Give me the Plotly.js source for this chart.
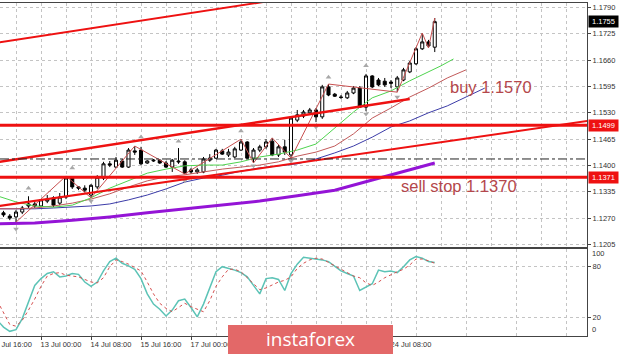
<!DOCTYPE html>
<html>
<head>
<meta charset="utf-8">
<script src="https://cdn.plot.ly/plotly-3.0.1.min.js"></script>
<style>html,body{margin:0;padding:0;background:#fff;overflow:hidden}#chart{width:620px;height:354px}</style>
</head>
<body>
<div id="chart"></div>
<script>
// ---- H4 candles (bar index starts at firstBar) ----
const firstBar = 2;
const open = [1.1283,1.1275,1.1273,1.1285,1.1300,1.1305,1.1300,1.1312,1.1320,1.1307,
 1.1322,1.1369,1.1347,1.1344,1.1327,1.1347,1.1369,1.1404,1.1396,1.1411,
 1.1396,1.1436,1.1438,1.1406,1.1411,1.1413,1.1406,1.1396,1.1411,1.1409,
 1.1389,1.1384,1.1384,1.1413,1.1418,1.1436,1.1426,1.1421,1.1438,1.1458,
 1.1418,1.1438,1.1446,1.1460,1.1426,1.1446,1.1426,1.1512,1.1522,1.1530,
 1.1537,1.1520,1.1594,1.1576,1.1569,1.1567,1.1579,1.1591,1.1544,1.1621,
 1.1611,1.1608,1.1606,1.1594,1.1611,1.1631,1.1651,1.1688,1.1705,1.1692];
const high = [1.1288,1.1280,1.1290,1.1300,1.1324,1.1310,1.1317,1.1327,1.1324,1.1332,
 1.1374,1.1371,1.1349,1.1351,1.1354,1.1376,1.1409,1.1411,1.1421,1.1416,
 1.1443,1.1448,1.1446,1.1413,1.1416,1.1416,1.1411,1.1416,1.1443,1.1413,
 1.1394,1.1394,1.1421,1.1428,1.1441,1.1441,1.1441,1.1446,1.1465,1.1460,
 1.1443,1.1451,1.1465,1.1468,1.1451,1.1463,1.1522,1.1537,1.1537,1.1542,
 1.1542,1.1599,1.1601,1.1579,1.1574,1.1584,1.1596,1.1596,1.1626,1.1623,
 1.1616,1.1616,1.1611,1.1621,1.1641,1.1658,1.1692,1.1727,1.1710,1.1764];
const low = [1.1273,1.1265,1.1260,1.1280,1.1295,1.1295,1.1297,1.1307,1.1297,1.1302,
 1.1317,1.1342,1.1339,1.1334,1.1320,1.1342,1.1364,1.1396,1.1394,1.1394,
 1.1394,1.1426,1.1401,1.1404,1.1409,1.1404,1.1394,1.1384,1.1404,1.1379,
 1.1379,1.1379,1.1381,1.1409,1.1416,1.1426,1.1421,1.1418,1.1436,1.1416,
 1.1406,1.1433,1.1441,1.1423,1.1421,1.1426,1.1418,1.1507,1.1517,1.1525,
 1.1507,1.1515,1.1571,1.1569,1.1564,1.1564,1.1576,1.1542,1.1534,1.1591,
 1.1596,1.1594,1.1591,1.1581,1.1608,1.1628,1.1648,1.1685,1.1690,1.1680];
const close = [1.1278,1.1270,1.1285,1.1295,1.1305,1.1300,1.1315,1.1317,1.1302,1.1322,
 1.1369,1.1347,1.1344,1.1339,1.1351,1.1371,1.1404,1.1401,1.1413,1.1396,
 1.1438,1.1433,1.1404,1.1411,1.1413,1.1406,1.1396,1.1413,1.1409,1.1381,
 1.1384,1.1389,1.1416,1.1418,1.1438,1.1428,1.1433,1.1441,1.1458,1.1418,
 1.1438,1.1446,1.1458,1.1426,1.1446,1.1433,1.1517,1.1525,1.1532,1.1537,
 1.1520,1.1594,1.1574,1.1571,1.1568,1.1579,1.1591,1.1544,1.1621,1.1594,
 1.1599,1.1599,1.1603,1.1616,1.1636,1.1653,1.1688,1.1705,1.1695,1.1755];

// ---- Alligator lines & long MA (read at sample bars) ----
const lipsIdx = [1,4,7,10,13,16,19,22,25,28,31,34,37,40,43,46,49,52,55,58,61,64,67,70,72,74];
const lipsVal = [1.1325,1.1310,1.1300,1.1297,1.1302,1.1320,1.1344,1.1362,1.1381,1.1391,1.1399,1.1401,1.1401,1.1409,1.1421,1.1428,1.1438,1.1453,1.1493,1.1532,1.1567,1.1584,1.1609,1.1631,1.1646,1.1663];
const teethIdx = [1,4,7,10,13,16,19,22,25,28,31,34,37,40,43,46,49,52,55,58,61,64,67,70,73,76];
const teethVal = [1.1293,1.1293,1.1295,1.1300,1.1307,1.1317,1.1330,1.1347,1.1362,1.1372,1.1377,1.1384,1.1391,1.1396,1.1401,1.1409,1.1423,1.1433,1.1448,1.1478,1.1517,1.1542,1.1569,1.1591,1.1616,1.1636];
const jawIdx = [1,4,7,10,13,16,19,22,25,28,31,34,37,40,43,46,49,52,55,58,61,64,67,70,73,76,79];
const jawVal = [1.1293,1.1293,1.1293,1.1295,1.1297,1.1300,1.1305,1.1315,1.1327,1.1342,1.1359,1.1369,1.1376,1.1386,1.1394,1.1399,1.1404,1.1416,1.1431,1.1448,1.1470,1.1495,1.1510,1.1530,1.1547,1.1569,1.1591];
const maIdx = [1,7,13,19,25,31,37,43,49,55,61,67,71];
const maVal = [1.1256,1.1258,1.1265,1.1273,1.1283,1.1293,1.1302,1.1312,1.1325,1.1339,1.1364,1.1389,1.1406];

// ---- ZigZag & fractals ----
const zzIdx = [4,12,16,23,31,40,42,45,48,54,65,69,70,71];
const zzVal = [1.1260,1.1374,1.1320,1.1448,1.1379,1.1465,1.1406,1.1468,1.1418,1.1601,1.1581,1.1727,1.1690,1.1764];
const fracUpIdx = [6,13,24,30,40,54,60];
const fracUpVal = [1.1344,1.1394,1.1470,1.1460,1.1485,1.1618,1.1646];
const fracDnIdx = [4,16,31,42,48,52,60,65];
const fracDnVal = [1.1243,1.1312,1.1362,1.1399,1.1411,1.1495,1.1527,1.1569];

// ---- drawn objects ----
const chanTopIdx = [0,45], chanTopVal = [1.1701,1.1807];
const chanMidIdx = [0,67], chanMidVal = [1.1406,1.1564];
const chanLowIdx = [0,96], chanLowVal = [1.1297,1.1511];
const levelVals = [1.1499,1.1371];
const levelLabels = ['1.1499','1.1371'];
const dashLevel = 1.1416;
const lastPrice = 1.1755, lastLabel = '1.1755';
const noteBuy = 'buy 1.1570', noteSell = 'sell stop 1.1370';

// ---- Stochastic ----
const stochFirst = 1;
const stochK = [17,9,4,6,19,38,58,66,72,74,
 68,69,72,71,62,57,62,75,86,90,
 84,81,77,66,48,36,30,22,29,40,
 42,32,21,36,56,74,80,78,76,73,
 68,58,48,66,67,65,52,72,83,91,
 90,89,88,86,80,75,72,69,52,56,
 60,76,74,75,73,80,88,92,90,86,85];
const stochD = [40,26,12,10,17,29,42,57,69,72,
 73,70,69,68,65,62,61,67,80,88,
 86,83,79,75,62,48,37,31,27,32,
 37,33,30,27,40,57,68,77,77,74,
 67,60,53,55,59,62,64,68,78,84,
 88,90,89,85,82,78,73,69,67,61,
 58,62,67,71,74,77,82,89,89,87,84];

// ---- axis ticks ----
const priceTicks = [1.1205,1.1270,1.1335,1.1400,1.1465,1.1530,1.1595,1.1660,1.1725,1.1790];
const timeTickIdx = [8,16,24,32,40,48,56,64];
const timeTickText = ['13 Jul 00:00','14 Jul 08:00','15 Jul 16:00','17 Jul 00:00','20 Jul 08:00','21 Jul 16:00','23 Jul 00:00','24 Jul 08:00'];
const firstTimeLabel = '10 Jul 16:00';

const bars = open.map((_, k) => firstBar + k);
const stochX = stochK.map((_, k) => stochFirst + k);

const xRange = [1.44, 95.36];
const gridEvery = [];
for (let g = 0; g <= 96; g += 4) gridEvery.push(g);
const minorGrid = gridEvery.filter(g => g % 8 !== 0);

const RED = '#ee1111';
const traces = [
 {type:'scatter', mode:'lines', x:maIdx, y:maVal, line:{color:'#9414d6', width:3}, hoverinfo:'skip'},
 {type:'scatter', mode:'lines', x:jawIdx, y:jawVal, line:{color:'#3c3ca8', width:1}, hoverinfo:'skip'},
 {type:'scatter', mode:'lines', x:teethIdx, y:teethVal, line:{color:'#c25a5a', width:1}, hoverinfo:'skip'},
 {type:'scatter', mode:'lines', x:lipsIdx, y:lipsVal, line:{color:'#4fd44f', width:1}, hoverinfo:'skip'},
 {type:'scatter', mode:'lines', x:zzIdx, y:zzVal, line:{color:'#c85050', width:1}, hoverinfo:'skip'},
 {type:'candlestick', x:bars, open:open, high:high, low:low, close:close,
  increasing:{line:{color:'#000', width:1}, fillcolor:'#fff'},
  decreasing:{line:{color:'#000', width:1}, fillcolor:'#000'},
  whiskerwidth:0, hoverinfo:'skip'},
 {type:'scatter', mode:'markers', x:fracUpIdx, y:fracUpVal, marker:{symbol:'triangle-up', size:5, color:'#a8a8a8'}, hoverinfo:'skip'},
 {type:'scatter', mode:'markers', x:fracDnIdx, y:fracDnVal, marker:{symbol:'triangle-down', size:5, color:'#a8a8a8'}, hoverinfo:'skip'},
 {type:'scatter', mode:'lines', x:chanTopIdx, y:chanTopVal, line:{color:RED, width:2}, hoverinfo:'skip'},
 {type:'scatter', mode:'lines', x:chanMidIdx, y:chanMidVal, line:{color:RED, width:2.5}, hoverinfo:'skip'},
 {type:'scatter', mode:'lines', x:chanLowIdx, y:chanLowVal, line:{color:RED, width:2}, hoverinfo:'skip'},
 {type:'scatter', mode:'lines', x:stochX, y:stochK, xaxis:'x2', yaxis:'y2', line:{color:'#5cc3b6', width:1.5}, hoverinfo:'skip'},
 {type:'scatter', mode:'lines', x:stochX, y:stochD, xaxis:'x2', yaxis:'y2', line:{color:'#d65050', width:1, dash:'dot'}, hoverinfo:'skip'}
];

const GRID = '#c4c4c4', AX = '#444', TXT = '#333';
const plotW = 587, plotB = 336, plotH = 333;
const shapes = [];
levelVals.forEach(v => shapes.push({type:'line', xref:'paper', x0:0, x1:1, yref:'y', y0:v, y1:v, line:{color:RED, width:3}}));
shapes.push({type:'line', xref:'paper', x0:0, x1:1, yref:'y', y0:dashLevel, y1:dashLevel, line:{color:'#222', width:1, dash:'dashdot'}});
shapes.push({type:'rect', layer:'above', xref:'paper', yref:'paper', x0:228/plotW, x1:393/plotW, y0:(plotB-356)/plotH, y1:(plotB-325)/plotH, fillcolor:'#e36868', line:{width:0}});

const annotations = [
 {xref:'x', yref:'y', x:80.0, y:1.15937, xanchor:'center', yanchor:'middle', text:noteBuy, showarrow:false, font:{family:'Liberation Sans, Arial, sans-serif', size:16.5, color:'#b4474b'}},
 {xref:'x', yref:'y', x:74.9, y:1.13493, xanchor:'center', yanchor:'middle', text:noteSell, showarrow:false, font:{family:'Liberation Sans, Arial, sans-serif', size:16.5, color:'#b4474b'}},
 {xref:'paper', yref:'y', x:1, xanchor:'left', yanchor:'middle', xshift:1, y:lastPrice, text:lastLabel, showarrow:false, bgcolor:'#000', borderpad:1, width:27, font:{size:7.5, color:'#fff'}},
 {xref:'paper', yref:'y2', x:1, xanchor:'left', yanchor:'middle', xshift:3, y:100, yshift:-4, text:'100', showarrow:false, font:{size:7.5, color:TXT}},
 {xref:'paper', yref:'y2', x:1, xanchor:'left', yanchor:'middle', xshift:3, y:0, yshift:5, text:'0', showarrow:false, font:{size:7.5, color:TXT}},
 {xref:'paper', yref:'paper', x:11/plotW, y:0, xanchor:'center', yanchor:'top', yshift:-2, text:firstTimeLabel, showarrow:false, font:{size:7.5, color:TXT}},
 {xref:'paper', yref:'paper', x:310/plotW, y:(plotB-339)/plotH, xanchor:'center', yanchor:'middle', text:'instaforex', showarrow:false, font:{family:'Open Sans, sans-serif', size:19, color:'#fff'}}
];
levelVals.forEach((v, k) => annotations.push({xref:'paper', yref:'y', x:1, xanchor:'left', yanchor:'middle', xshift:1, y:v, text:levelLabels[k], showarrow:false, bgcolor:'#ee1111', borderpad:1, width:27, font:{size:7.5, color:'#fff'}}));

const layout = {
 width:620, height:354,
 margin:{l:0, r:33, t:3, b:18, pad:0},
 paper_bgcolor:'#fff', plot_bgcolor:'#fff',
 showlegend:false,
 font:{family:'Liberation Sans, Arial, sans-serif', size:7.5, color:TXT},
 xaxis:{anchor:'y', range:xRange, tickmode:'array', tickvals:gridEvery, showticklabels:false, ticks:'',
   showgrid:true, gridcolor:GRID, griddash:'dot', gridwidth:1, showline:true, mirror:true, linecolor:AX, linewidth:1, zeroline:false,
   rangeslider:{visible:false}},
 xaxis2:{anchor:'y2', range:xRange, tickmode:'array', tickvals:timeTickIdx, ticktext:timeTickText, ticks:'outside', ticklen:3, tickcolor:AX,
   ticklabelshift:20, ticklabelstandoff:-2, showgrid:true, gridcolor:GRID, griddash:'dot',
   minor:{tickmode:'array', tickvals:minorGrid, showgrid:true, gridcolor:GRID, griddash:'dot', ticks:''},
   showline:true, mirror:true, linecolor:AX, linewidth:1, zeroline:false, rangeslider:{visible:false}},
 yaxis:{domain:[(plotB-247)/plotH, 1], anchor:'x', side:'right', range:[1.11987,1.18011], tickmode:'array', tickvals:priceTicks,
   ticktext:priceTicks.map(v => v.toFixed(4)), ticks:'outside', ticklen:3, tickcolor:AX,
   showgrid:true, gridcolor:GRID, griddash:'dot', showline:true, mirror:true, linecolor:AX, linewidth:1, zeroline:false},
 yaxis2:{domain:[0, (plotB-249)/plotH], anchor:'x2', side:'right', range:[-1.5,100.8], tickmode:'array', tickvals:[20,80], ticktext:['20','80'],
   ticks:'outside', ticklen:3, tickcolor:AX, showgrid:true, gridcolor:GRID, griddash:'dot',
   showline:true, mirror:true, linecolor:AX, linewidth:1, zeroline:false},
 shapes:shapes,
 annotations:annotations
};

Plotly.newPlot('chart', traces, layout, {staticPlot:true, displayModeBar:false});
</script>
</body>
</html>
